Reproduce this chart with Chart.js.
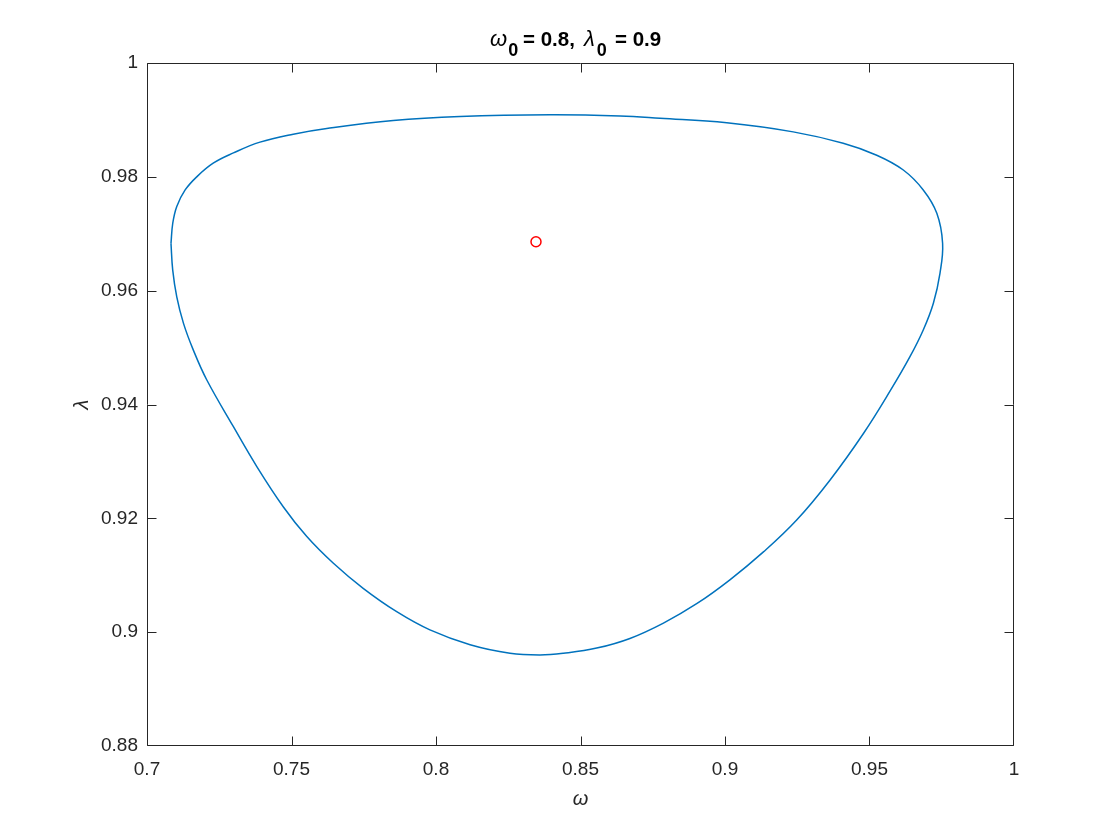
<!DOCTYPE html>
<html>
<head>
<meta charset="utf-8">
<script src="https://cdn.jsdelivr.net/npm/chart.js@4"></script>
<style>
  html, body { margin: 0; padding: 0; background: #fff; }
  #wrap { width: 1120px; height: 840px; }
</style>
</head>
<body>
<div id="wrap"><canvas id="chart" width="1120" height="840"></canvas></div>
<script>
// Closed contour (omega, lambda), clockwise from the leftmost point
const omegaVals = [
  0.7083, 0.7089, 0.7103, 0.7132, 0.7172, 0.7229, 0.7299, 0.7391, 0.7506, 0.7622,
  0.7852, 0.8083, 0.8395, 0.8637, 0.8775, 0.9006, 0.9236, 0.9409, 0.9525, 0.9617,
  0.9686, 0.9733, 0.9753, 0.9744, 0.9721, 0.9686, 0.9640, 0.9574, 0.9479, 0.9363,
  0.9248, 0.9133, 0.9017, 0.8902, 0.8787, 0.8671, 0.8556, 0.8441, 0.8360, 0.8256,
  0.8118, 0.7979, 0.7864, 0.7748, 0.7645, 0.7553, 0.7472, 0.7380, 0.7299,
  0.7207, 0.7160, 0.7126, 0.7103, 0.7089, 0.7083
];
const lambdaVals = [
  0.9683, 0.9718, 0.9748, 0.9777, 0.9800, 0.9824, 0.9842, 0.9861, 0.9875, 0.9885,
  0.9899, 0.9906, 0.9909, 0.9907, 0.9903, 0.9895, 0.9879, 0.9859, 0.9838, 0.9812,
  0.9777, 0.9736, 0.9683, 0.9631, 0.9578, 0.9531, 0.9484, 0.9426, 0.9349, 0.9267,
  0.9197, 0.9141, 0.9092, 0.9050, 0.9016, 0.8989, 0.8972, 0.8963, 0.8960, 0.8963,
  0.8978, 0.9004, 0.9036, 0.9077, 0.9121, 0.9168, 0.9220, 0.9291, 0.9361,
  0.9443, 0.9496, 0.9543, 0.9589, 0.9636, 0.9683
];

// red marker
const centerOmega = [0.8346];
const centerLambda = [0.9686];

const xTicks = [0.7, 0.75, 0.8, 0.85, 0.9, 0.95, 1];
const yTicks = [0.88, 0.9, 0.92, 0.94, 0.96, 0.98, 1];

const FONT = "'Liberation Sans', Arial, Helvetica, sans-serif";
const INK = "#262626";

const contour = omegaVals.map((w, i) => ({ x: w, y: lambdaVals[i] }));
const center = centerOmega.map((w, i) => ({ x: w, y: centerLambda[i] }));

// box, inward ticks, title and axis labels, MATLAB style
const matlabAxes = {
  id: "matlabAxes",
  afterDraw(chart) {
    const { ctx, scales } = chart;
    const sx = scales.x, sy = scales.y;
    const L = Math.round(sx.getPixelForValue(0.7)) + 0.5;
    const R = Math.round(sx.getPixelForValue(1)) - 0.5;
    const T = Math.round(sy.getPixelForValue(1)) + 0.5;
    const B = Math.round(sy.getPixelForValue(0.88)) - 0.5;
    const len = 9;
    ctx.save();
    ctx.strokeStyle = INK;
    ctx.lineWidth = 1;
    ctx.beginPath();
    ctx.rect(L, T, R - L, B - T);
    xTicks.forEach(v => {
      const px = Math.round(sx.getPixelForValue(v)) + 0.5;
      const p = Math.min(Math.max(px, L), R);
      ctx.moveTo(p, B); ctx.lineTo(p, B - len);
      ctx.moveTo(p, T); ctx.lineTo(p, T + len);
    });
    yTicks.forEach(v => {
      const py = Math.round(sy.getPixelForValue(v)) + 0.5;
      const p = Math.min(Math.max(py, T), B);
      ctx.moveTo(L, p); ctx.lineTo(L + len, p);
      ctx.moveTo(R, p); ctx.lineTo(R - len, p);
    });
    ctx.stroke();

    // title: omega_0 = 0.8, lambda_0 = 0.9
    const greek = "italic 22px " + FONT;
    const sub = "bold 18px " + FONT;
    const main = "bold 20.5px " + FONT;
    ctx.fillStyle = "#000";
    ctx.textBaseline = "alphabetic";
    ctx.textAlign = "left";
    const piece = (t, f, x, dy) => {
      ctx.font = f;
      ctx.fillText(t, x, 46 + dy);
      return x + ctx.measureText(t).width;
    };
    let x = piece("\u03c9", greek, 490, 0);
    piece("0", sub, x + 1, 10);
    piece("= 0.8,", main, 523, 0);
    x = piece("\u03bb", greek, 584, 0);
    piece("0", sub, x + 2, 10);
    piece("= 0.9", main, 615, 0);

    // axis labels
    ctx.fillStyle = INK;
    ctx.font = "italic 20px " + FONT;
    ctx.textAlign = "center";
    ctx.fillText("\u03c9", (L + R) / 2, 805);
    ctx.translate(88, (T + B) / 2);
    ctx.rotate(-Math.PI / 2);
    ctx.fillText("\u03bb", 0, 0);
    ctx.restore();
  }
};

new Chart(document.getElementById("chart"), {
  type: "scatter",
  data: {
    datasets: [
      {
        data: contour,
        showLine: true,
        borderColor: "#0072BD",
        borderWidth: 1.5,
        tension: 0.4,
        pointRadius: 0,
        fill: false
      },
      {
        data: center,
        showLine: false,
        pointRadius: 5,
        pointBorderWidth: 1.5,
        pointBorderColor: "#FF0000",
        pointBackgroundColor: "rgba(0,0,0,0)"
      }
    ]
  },
  options: {
    responsive: false,
    animation: false,
    layout: { padding: { top: 63, right: 106, left: 0, bottom: 0 } },
    plugins: {
      legend: { display: false },
      tooltip: { enabled: false },
      title: { display: false }
    },
    scales: {
      x: {
        type: "linear",
        min: 0.7,
        max: 1,
        afterFit: s => { s.height = 94; },
        afterBuildTicks: s => { s.ticks = xTicks.map(v => ({ value: v })); },
        grid: { display: false, drawTicks: false },
        border: { display: false },
        ticks: {
          padding: 12,
          color: INK,
          font: { family: FONT, size: 19 },
          callback: v => String(+v.toFixed(2))
        }
      },
      y: {
        type: "linear",
        min: 0.88,
        max: 1,
        afterFit: s => { s.width = 147; },
        afterBuildTicks: s => { s.ticks = yTicks.map(v => ({ value: v })); },
        grid: { display: false, drawTicks: false },
        border: { display: false },
        ticks: {
          padding: 9,
          color: INK,
          font: { family: FONT, size: 19 },
          callback: v => String(+v.toFixed(2))
        }
      }
    }
  },
  plugins: [matlabAxes]
});
</script>
</body>
</html>
